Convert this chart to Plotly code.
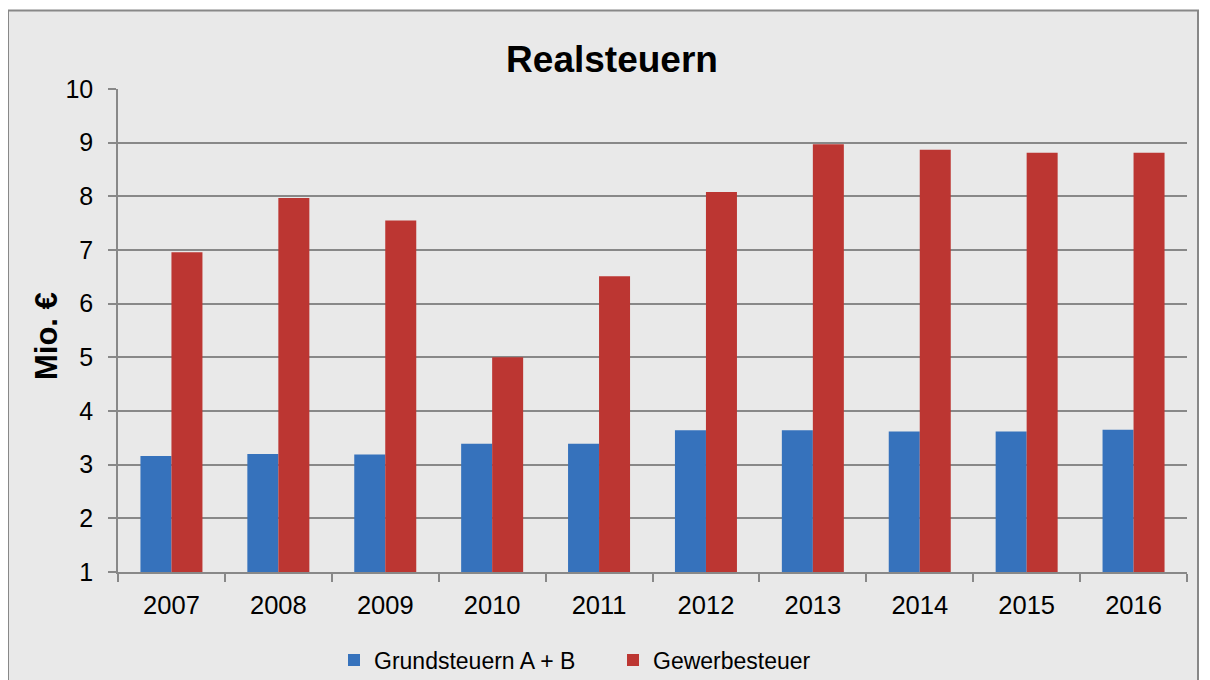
import plotly.graph_objects as go

# data
years = ["2007", "2008", "2009", "2010", "2011", "2012", "2013", "2014", "2015", "2016"]
grundsteuern = [3.16, 3.20, 3.19, 3.39, 3.39, 3.64, 3.64, 3.62, 3.62, 3.65]
gewerbesteuer = [6.96, 7.97, 7.55, 5.00, 6.51, 8.08, 8.97, 8.87, 8.81, 8.81]
y_ticks = list(range(1, 11))

BLUE = "#3672bc"
RED = "#bc3632"
GRID = "#888888"
BG = "#e9e9e9"
FONT = "Liberation Sans, Arial, sans-serif"

# the page body adds 8px, so everything is placed 8px up/left of the target
OFF = 8
W, H = 1210, 680
L, R, T, B = 118 - OFF, W - (1187 - OFF), 89 - OFF, H - (572 - OFF)


def px_x(v):
    return (v - OFF - L) / (W - L - R)


def px_y(v):
    return (H - B - (v - OFF)) / (H - T - B)


fig = go.Figure()
fig.add_trace(go.Bar(x=years, y=grundsteuern, name="Grundsteuern A + B",
                     marker=dict(color=BLUE, line=dict(width=0))))
fig.add_trace(go.Bar(x=years, y=gewerbesteuer, name="Gewerbesteuer",
                     marker=dict(color=RED, line=dict(width=0))))

fig.update_layout(
    width=W, height=H,
    margin=dict(l=L, r=R, t=T, b=B, autoexpand=False),
    paper_bgcolor="white",
    plot_bgcolor="rgba(0,0,0,0)",
    barmode="group",
    bargap=0.42,
    bargroupgap=0,
    font=dict(family=FONT, size=23, color="black"),
    title=dict(text="<b>Realsteuern</b>", font=dict(size=37, color="black"),
               x=(612 - OFF) / W, xref="container", xanchor="center",
               y=1 - (59 - OFF) / H, yref="container", yanchor="middle"),
    legend=dict(orientation="h", x=px_x(334), xanchor="left",
                y=px_y(660), yanchor="middle", bgcolor="rgba(0,0,0,0)",
                font=dict(size=23), entrywidth=234, itemclick=False),
    shapes=[dict(type="rect", xref="paper", yref="paper", layer="below",
                 x0=px_x(8), x1=px_x(1198), y0=px_y(700), y1=px_y(10.5),
                 fillcolor=BG, line=dict(color="#888888", width=2))],
    annotations=[dict(text="<b>Mio. €</b>", textangle=-90, showarrow=False,
                      xref="paper", yref="paper", x=px_x(46), y=px_y(336),
                      xanchor="center", yanchor="middle", font=dict(size=31))],
)

fig.update_yaxes(
    range=[1, 10], tickvals=y_ticks, showgrid=True, gridcolor=GRID, gridwidth=1.5,
    showline=True, linecolor=GRID, linewidth=1.5, ticks="outside", ticklen=8,
    tickcolor=GRID, tickwidth=1.5, ticklabelstandoff=10, zeroline=False,
    tickfont=dict(size=25),
)
fig.update_xaxes(
    showgrid=False, showline=True, linecolor=GRID, linewidth=1.5,
    ticks="outside", tickson="boundaries", ticklen=8, tickcolor=GRID, tickwidth=1.5,
    ticklabelstandoff=10, tickfont=dict(size=25.5),
)

fig.write_html("out.html")
